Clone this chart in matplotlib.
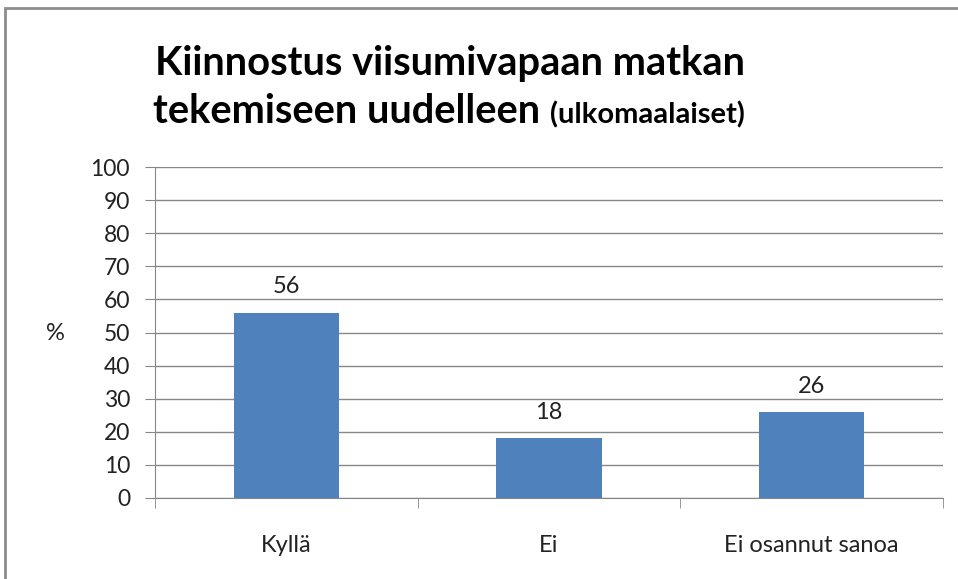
import matplotlib.pyplot as plt
import matplotlib.patches as mpatches
import numpy as np

# Data
categories = ["Kyllä", "Ei", "Ei osannut sanoa"]
values = [56, 18, 26]
yticks = [0, 10, 20, 30, 40, 50, 60, 70, 80, 90, 100]

plt.rcParams['font.family'] = ['Lato', 'DejaVu Sans']

bar_color = "#4F81BD"
grid_color = "#878787"
text_color = "#222222"

fig = plt.figure(figsize=(9.58, 5.79), dpi=100)
ax = fig.add_axes([155 / 958, 81 / 579, 788 / 958, 331 / 579])

x = np.arange(len(categories))
ax.bar(x, values, width=0.4, color=bar_color, zorder=3)

for xi, v in zip(x, values):
    ax.annotate(str(v), (xi, v), xytext=(0, 11), textcoords="offset points",
                ha="center", va="bottom", fontsize=17, color=text_color)

ax.set_xlim(-0.5, len(categories) - 0.5)
ax.set_ylim(0, 100)
ax.set_yticks(yticks)
ax.set_yticklabels([str(t) for t in yticks], fontsize=16.5, color=text_color)
ax.set_xticks(x)
ax.set_xticklabels(categories, fontsize=17, color=text_color)
ax.set_xticks(np.arange(len(categories) + 1) - 0.5, minor=True)
ax.tick_params(axis="x", which="major", length=0, pad=27)
ax.tick_params(axis="x", which="minor", length=7, color=grid_color, direction="out")
ax.tick_params(axis="y", length=7, color=grid_color, direction="out", pad=11)

ax.yaxis.grid(True, color=grid_color, linewidth=1, zorder=0)
ax.set_axisbelow(True)
for side in ["top", "right"]:
    ax.spines[side].set_visible(False)
ax.spines["left"].set_color(grid_color)
ax.spines["bottom"].set_color(grid_color)

fig.text(55 / 958, 1 - 334 / 579, "%", fontsize=17, ha="center", va="center", color=text_color)

# title, two lines, second with smaller note
fig.text(450 / 958, 1 - 75 / 579, "Kiinnostus viisumivapaan matkan", fontsize=28.7,
         fontweight="bold", ha="center", va="baseline")
t2 = fig.text(153 / 958, 1 - 123 / 579, "tekemiseen uudelleen ", fontsize=28.7,
              fontweight="bold", ha="left", va="baseline")
fig.canvas.draw()
bb = t2.get_window_extent()
fig.text(bb.x1 / 958, 1 - 123 / 579, "(ulkomaalaiset)", fontsize=21,
         fontweight="bold", ha="left", va="baseline")

# outer chart border
border = mpatches.Rectangle((5 / 958, -0.05), 1.1, 1 - 8 / 579 + 0.05,
                            transform=fig.transFigure, fill=False,
                            edgecolor="#8c8c8c", linewidth=2, clip_on=False)
fig.patches.append(border)

fig.savefig("out.png", dpi=100)
